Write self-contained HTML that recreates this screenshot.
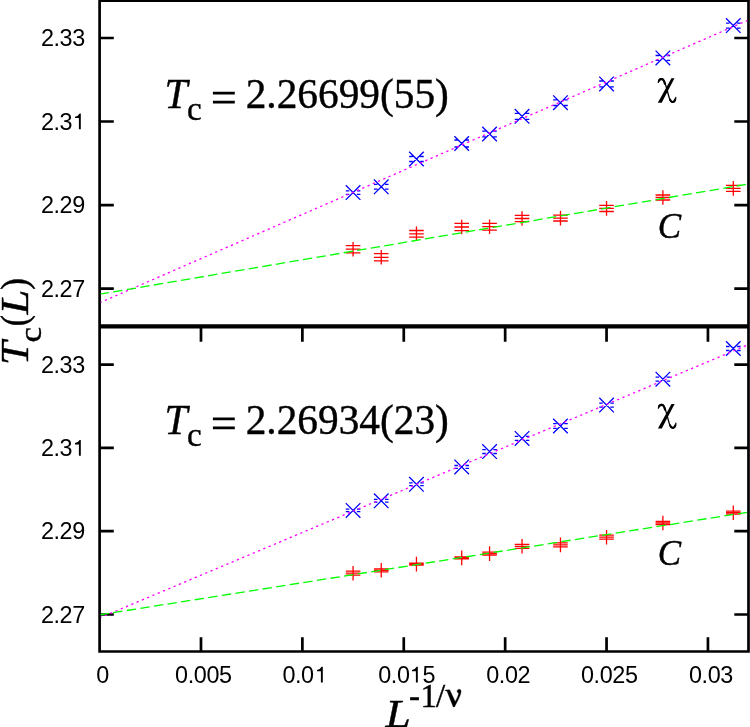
<!DOCTYPE html>
<html><head><meta charset="utf-8"><title>Tc(L)</title>
<style>html,body{margin:0;padding:0;background:#fff;overflow:hidden}svg{display:block}text{fill:#000}.s{font-family:"Liberation Sans",sans-serif;font-size:23.4px;letter-spacing:-0.4px}.r{font-family:"Liberation Serif",serif;stroke:#000;stroke-width:0.4px}</style></head><body>
<svg width="750" height="727" viewBox="0 0 750 727">
<defs><filter id="b" x="0" y="0" width="750" height="727" filterUnits="userSpaceOnUse" color-interpolation-filters="sRGB"><feGaussianBlur stdDeviation="0.4"/></filter></defs>
<rect width="750" height="727" fill="#fff"/>
<g filter="url(#b)">
<rect width="750" height="727" fill="#fff"/>
<g fill="none" stroke="#000" stroke-width="2.7" stroke-linecap="butt">
<path d="M99.6 0.6H748.5M99.6 651.5H748.5M99.6 -1.4V652.85M748.5 -1.4V652.85"/>
<path d="M99.6 326.4H748.5" stroke-width="4.3"/>
<path d="M99.6 38.0h14.2M748.5 38.0h-14.2M99.6 121.5h14.2M748.5 121.5h-14.2M99.6 205.1h14.2M748.5 205.1h-14.2M99.6 288.6h14.2M748.5 288.6h-14.2M99.6 364.6h14.2M748.5 364.6h-14.2M99.6 447.9h14.2M748.5 447.9h-14.2M99.6 531.2h14.2M748.5 531.2h-14.2M99.6 614.5h14.2M748.5 614.5h-14.2M200.99 651.5v-14.2M200.99 326.4v15.399999999999999M302.38 651.5v-14.2M302.38 326.4v15.399999999999999M403.77 651.5v-14.2M403.77 326.4v15.399999999999999M505.16 651.5v-14.2M505.16 326.4v15.399999999999999M606.55 651.5v-14.2M606.55 326.4v15.399999999999999M707.94 651.5v-14.2M707.94 326.4v15.399999999999999"/>
</g>
<path d="M345.78 249.20H360.38M353.08 241.90V256.50M345.78 245.60H360.38M345.78 252.80H360.38M373.94 257.30H388.54M381.24 250.00V264.60M373.94 253.70H388.54M373.94 260.90H388.54M409.15 233.80H423.75M416.45 226.50V241.10M409.15 230.50H423.75M409.15 237.10H423.75M454.41 227.00H469.01M461.71 219.70V234.30M454.41 223.40H469.01M454.41 230.60H469.01M482.26 226.70H496.86M489.56 219.40V234.00M482.26 223.30H496.86M482.26 230.10H496.86M514.76 218.50H529.36M522.06 211.20V225.80M514.76 215.40H529.36M514.76 221.60H529.36M553.17 218.10H567.77M560.47 210.80V225.40M553.17 215.20H567.77M553.17 221.00H567.77M599.25 208.40H613.85M606.55 201.10V215.70M599.25 205.30H613.85M599.25 211.50H613.85M655.58 197.50H670.18M662.88 190.20V204.80M655.58 195.00H670.18M655.58 200.00H670.18M725.99 188.40H740.59M733.29 181.10V195.70M725.99 185.40H740.59M725.99 191.40H740.59M345.78 573.20H360.38M353.08 565.90V580.50M345.78 571.20H360.38M345.78 575.20H360.38M373.94 570.30H388.54M381.24 563.00V577.60M373.94 568.80H388.54M373.94 571.80H388.54M409.15 564.10H423.75M416.45 556.80V571.40M409.15 563.10H423.75M409.15 565.10H423.75M454.41 557.90H469.01M461.71 550.60V565.20M454.41 556.90H469.01M454.41 558.90H469.01M482.26 553.60H496.86M489.56 546.30V560.90M482.26 552.10H496.86M482.26 555.10H496.86M514.76 546.30H529.36M522.06 539.00V553.60M514.76 544.30H529.36M514.76 548.30H529.36M553.17 544.90H567.77M560.47 537.60V552.20M553.17 542.90H567.77M553.17 546.90H567.77M599.25 537.20H613.85M606.55 529.90V544.50M599.25 535.20H613.85M599.25 539.20H613.85M655.58 523.00H670.18M662.88 515.70V530.30M655.58 521.30H670.18M655.58 524.70H670.18M725.99 512.70H740.59M733.29 505.40V520.00M725.99 511.20H740.59M725.99 514.20H740.59" fill="none" stroke="#ff0000" stroke-width="1.3"/>
<path d="M345.78 185.30L360.38 199.90M345.78 199.90L360.38 185.30M345.78 190.80H349.28M356.88 190.80H360.38M345.78 194.40H349.28M356.88 194.40H360.38M373.94 179.50L388.54 194.10M373.94 194.10L388.54 179.50M373.94 184.40H377.44M385.04 184.40H388.54M373.94 189.20H377.44M385.04 189.20H388.54M409.15 151.70L423.75 166.30M409.15 166.30L423.75 151.70M409.15 156.50H412.65M420.25 156.50H423.75M409.15 161.50H412.65M420.25 161.50H423.75M454.41 136.20L469.01 150.80M454.41 150.80L469.01 136.20M454.41 140.00H457.91M465.51 140.00H469.01M454.41 147.00H457.91M465.51 147.00H469.01M482.26 126.70L496.86 141.30M482.26 141.30L496.86 126.70M482.26 131.10H485.76M493.36 131.10H496.86M482.26 136.90H485.76M493.36 136.90H496.86M514.76 109.00L529.36 123.60M514.76 123.60L529.36 109.00M514.76 113.30H518.26M525.86 113.30H529.36M514.76 119.30H518.26M525.86 119.30H529.36M553.17 95.40L567.77 110.00M553.17 110.00L567.77 95.40M553.17 99.90H556.67M564.27 99.90H567.77M553.17 105.50H556.67M564.27 105.50H567.77M599.25 76.60L613.85 91.20M599.25 91.20L613.85 76.60M599.25 81.00H602.75M610.35 81.00H613.85M599.25 86.80H602.75M610.35 86.80H613.85M655.58 50.60L670.18 65.20M655.58 65.20L670.18 50.60M655.58 55.50H659.08M666.68 55.50H670.18M655.58 60.30H659.08M666.68 60.30H670.18M725.99 18.30L740.59 32.90M725.99 32.90L740.59 18.30M725.99 23.15H729.49M737.09 23.15H740.59M725.99 28.05H729.49M737.09 28.05H740.59M345.78 503.10L360.38 517.70M345.78 517.70L360.38 503.10M345.78 509.10H349.28M356.88 509.10H360.38M345.78 511.70H349.28M356.88 511.70H360.38M373.94 493.50L388.54 508.10M373.94 508.10L388.54 493.50M373.94 499.40H377.44M385.04 499.40H388.54M373.94 502.20H377.44M385.04 502.20H388.54M409.15 477.00L423.75 491.60M409.15 491.60L423.75 477.00M409.15 482.90H412.65M420.25 482.90H423.75M409.15 485.70H412.65M420.25 485.70H423.75M454.41 459.60L469.01 474.20M454.41 474.20L469.01 459.60M454.41 465.50H457.91M465.51 465.50H469.01M454.41 468.30H457.91M465.51 468.30H469.01M482.26 444.30L496.86 458.90M482.26 458.90L496.86 444.30M482.26 449.70H485.76M493.36 449.70H496.86M482.26 453.50H485.76M493.36 453.50H496.86M514.76 431.10L529.36 445.70M514.76 445.70L529.36 431.10M514.76 436.40H518.26M525.86 436.40H529.36M514.76 440.40H518.26M525.86 440.40H529.36M553.17 418.70L567.77 433.30M553.17 433.30L567.77 418.70M553.17 423.70H556.67M564.27 423.70H567.77M553.17 428.30H556.67M564.27 428.30H567.77M599.25 397.80L613.85 412.40M599.25 412.40L613.85 397.80M599.25 403.10H602.75M610.35 403.10H613.85M599.25 407.10H602.75M610.35 407.10H613.85M655.58 371.90L670.18 386.50M655.58 386.50L670.18 371.90M655.58 377.20H659.08M666.68 377.20H670.18M655.58 381.20H659.08M666.68 381.20H670.18M725.99 341.20L740.59 355.80M725.99 355.80L740.59 341.20M725.99 346.50H729.49M737.09 346.50H740.59M725.99 350.50H729.49M737.09 350.50H740.59" fill="none" stroke="#0000ff" stroke-width="1.3"/>
<clipPath id="c"><rect x="100.7" y="0" width="646.7" height="727"/></clipPath>
<g fill="none" stroke-width="1.3" clip-path="url(#c)">
<line x1="99.6" y1="302.8" x2="748.5" y2="20.0" stroke="#ff00ff" stroke-dasharray="2.3 3.43"/>
<line x1="99.6" y1="294.2" x2="748.5" y2="184.0" stroke="#00ff00" stroke-dasharray="9.4 4.35"/>
<line x1="99.6" y1="617.9" x2="748.5" y2="344.6" stroke="#ff00ff" stroke-dasharray="2.3 3.43"/>
<line x1="99.6" y1="614.8" x2="748.5" y2="512.1" stroke="#00ff00" stroke-dasharray="9.4 4.35"/>
</g>
<text class="s" x="40.9" y="46.0">2.33</text>
<text class="s" x="40.9" y="129.5">2.3</text>
<path d="M80.80 113.60V129.30H78.90V118.10H75.00V116.70Q78.00 116.60 79.60 113.60Z" fill="#000"/>
<text class="s" x="40.9" y="213.1">2.29</text>
<text class="s" x="40.9" y="296.6">2.27</text>
<text class="s" x="40.9" y="372.6">2.33</text>
<text class="s" x="40.9" y="455.9">2.3</text>
<path d="M80.80 440.00V455.70H78.90V444.50H75.00V443.10Q78.00 443.00 79.60 440.00Z" fill="#000"/>
<text class="s" x="40.9" y="539.2">2.29</text>
<text class="s" x="40.9" y="622.5">2.27</text>
<text class="s" x="96.2" y="682.6">0</text>
<text class="s" x="175.1" y="682.6">0.005</text>
<text class="s" x="282.4" y="682.6">0.0</text>
<path d="M322.80 666.80V682.50H320.90V671.30H317.00V669.90Q320.00 669.80 321.60 666.80Z" fill="#000"/>
<text class="s" x="378.2" y="682.6">0.0</text>
<path d="M417.80 666.80V682.50H415.90V671.30H412.00V669.90Q415.00 669.80 416.60 666.80Z" fill="#000"/>
<text class="s" x="422.4" y="682.6">5</text>
<text class="s" x="486.2" y="682.6">0.02</text>
<text class="s" x="581.0" y="682.6">0.025</text>
<text class="s" x="689.0" y="682.6">0.03</text>
<text class="r" x="164.6" y="108.3" font-size="41.3px" font-style="italic">T</text><text class="r" x="187.0" y="120.1" font-size="33px">c</text><path d="M212.9 93.05H234.8M212.9 102.15H234.8" stroke="#000" stroke-width="2.7" fill="none"/><text class="r" x="245.7" y="108.3" font-size="41.3px" textLength="203.2" lengthAdjust="spacingAndGlyphs">2.26699(55)</text>
<text class="r" x="164.6" y="434.1" font-size="41.3px" font-style="italic">T</text><text class="r" x="187.0" y="445.9" font-size="33px">c</text><path d="M212.9 418.85H234.8M212.9 427.95H234.8" stroke="#000" stroke-width="2.7" fill="none"/><text class="r" x="245.7" y="434.1" font-size="41.3px" textLength="203.2" lengthAdjust="spacingAndGlyphs">2.26934(23)</text>
<g transform="translate(0 0)" fill="none" stroke="#000" stroke-linecap="round" stroke-linejoin="round"><path d="M671.4 78.3H674.5L661.7 102.8H657.8Z" fill="#000" stroke="none"/><path d="M658.3 82.4C658.6 79.8 660.2 78.4 662 78.6C664 78.9 664.9 81.6 665.7 85L669 97C670 100.6 671.3 102.6 673 102.4C674.6 102.2 675.5 100.2 675.8 97.4" stroke-width="1.3"/><path d="M659 80.6C660 79 661.4 78.8 662.6 79.4C663.8 80.2 664.4 82 665 84" stroke-width="2.1"/><path d="M670 99.6C670.8 101.4 671.8 102.2 673 102C674 101.8 674.8 100.8 675.2 99.4" stroke-width="2.1"/></g>
<g transform="translate(0.1 325.8)" fill="none" stroke="#000" stroke-linecap="round" stroke-linejoin="round"><path d="M671.4 78.3H674.5L661.7 102.8H657.8Z" fill="#000" stroke="none"/><path d="M658.3 82.4C658.6 79.8 660.2 78.4 662 78.6C664 78.9 664.9 81.6 665.7 85L669 97C670 100.6 671.3 102.6 673 102.4C674.6 102.2 675.5 100.2 675.8 97.4" stroke-width="1.3"/><path d="M659 80.6C660 79 661.4 78.8 662.6 79.4C663.8 80.2 664.4 82 665 84" stroke-width="2.1"/><path d="M670 99.6C670.8 101.4 671.8 102.2 673 102C674 101.8 674.8 100.8 675.2 99.4" stroke-width="2.1"/></g>
<text class="r" x="657.7" y="238.0" font-size="35px" font-style="italic">C</text>
<text class="r" x="657.7" y="564.9" font-size="35px" font-style="italic">C</text>
<text class="r" font-size="39.8px" font-style="italic" transform="translate(27.8 365.0) rotate(-90) scale(1.07 1)">T</text>
<text class="r" font-size="32.5px" font-style="normal" transform="translate(40.6 342.5) rotate(-90) scale(1.08 1)">c</text>
<text class="r" font-size="41.3px" font-style="normal" transform="translate(27.0 326.2) rotate(-90) scale(0.82 0.92)">(</text>
<text class="r" font-size="39.8px" font-style="italic" transform="translate(27.8 314.4) rotate(-90) scale(1.12 1)">L</text>
<text class="r" font-size="41.3px" font-style="normal" transform="translate(27.0 289.9) rotate(-90) scale(0.88 0.92)">)</text>
<text class="r" font-size="40.3px" font-style="italic" transform="translate(385.6 726.8) scale(1.13 1)">L</text>
<text class="r" font-size="33px" x="409.1 420.5 436.1" y="706.8">-1/</text>
<path d="M445.2 690.0L449.7 689.8L455.2 701.6C456.8 698.8 458.3 695.6 458.6 693.2C458.0 693.0 457.3 692.5 457.1 691.6C456.9 690.2 458.0 689.2 459.3 689.2C460.6 689.2 461.2 690.3 461.1 691.6C460.9 694.0 459.6 697.0 458.2 699.8L454.5 707.0L453.2 706.9L447.0 691.2C446.6 690.8 446.0 690.7 445.2 690.7Z" fill="#000" stroke="#000" stroke-width="0.3" stroke-linejoin="round"/>
</g></svg></body></html>
